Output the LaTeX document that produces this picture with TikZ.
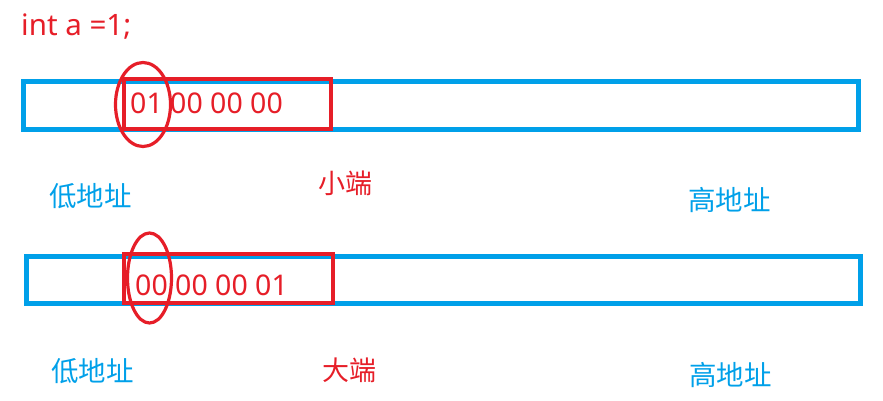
\documentclass[tikz,border=0pt]{standalone}
\usepackage{fontspec}
\setmainfont{Noto Sans}
\newfontfamily\cjk{Noto Sans CJK SC}
\usepackage{tikz}
\definecolor{memblue}{RGB}{0,160,233}
\definecolor{memred}{RGB}{230,30,40}
\tikzset{
  cell/.style={draw=memblue,line width=5pt},
  frame/.style={draw=memred,line width=4.2pt},
  ring/.style={draw=memred,line width=3.2pt},
  bytes/.style={anchor=base west,inner sep=0pt,text=memred,font=\fontsize{28.5}{30}\selectfont},
  addr/.style={inner sep=0pt,text=memblue,font=\cjk\fontsize{27.5}{30}\selectfont},
  kind/.style={inner sep=0pt,text=memred,font=\cjk\fontsize{27}{30}\selectfont}
}

\begin{document}
\begin{tikzpicture}[x=1pt,y=-1pt]
  \useasboundingbox (0,0) rectangle (883,400);
  \draw (21,35) node[bytes,font=\fontsize{29.5}{31}\selectfont] (decl) {int a =1;};

  % little endian
  \draw[cell] (23,81) rectangle (858,129.5);
  \draw[frame] (124,79) rectangle (331,129);
  \draw (130,113) node[bytes] (little) {01 00 00 00};
  \draw[ring] (143,104.5) ellipse (27.5 and 42);
      \draw (90.5,196) node[addr] (lowa) {低地址};
      \draw (345,183.5) node[kind] (littlename) {小端};
      \draw (729.5,200) node[addr] (higha) {高地址};

  % big endian
  \draw[cell] (26,256) rectangle (860,303.5);
  \draw[frame] (124,254) rectangle (333,303);
  \draw (135,295) node[bytes] (big) {00 00 00 01};
  \draw[ring] (149.5,278) ellipse (22 and 45);
      \draw (92.5,371.5) node[addr] (lowb) {低地址};
      \draw (349.5,370) node[kind] (bigname) {大端};
      \draw (730.5,375) node[addr] (highb) {高地址};
\end{tikzpicture}
\end{document}
